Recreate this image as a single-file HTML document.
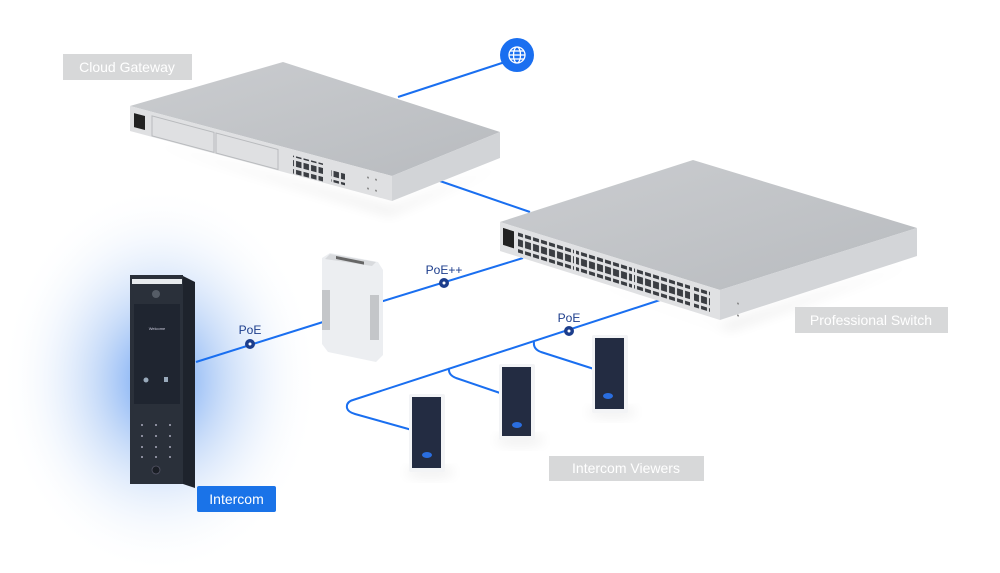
<!DOCTYPE html>
<html><head><meta charset="utf-8"><style>
html,body{margin:0;padding:0;background:#fff;}
svg{display:block;font-family:"Liberation Sans",sans-serif;}
</style></head><body>
<svg width="1000" height="573" viewBox="0 0 1000 573" xmlns="http://www.w3.org/2000/svg">
<defs>
<radialGradient id="glow" cx="0.5" cy="0.5" r="0.5">
<stop offset="0" stop-color="#2f7cf0" stop-opacity="0.75"/>
<stop offset="0.4" stop-color="#7aaaf0" stop-opacity="0.4"/>
<stop offset="0.75" stop-color="#c8dcf8" stop-opacity="0.15"/>
<stop offset="1" stop-color="#ffffff" stop-opacity="0"/>
</radialGradient>
<linearGradient id="swtop" x1="0" y1="0" x2="1" y2="1">
<stop offset="0" stop-color="#cbcdd0"/><stop offset="1" stop-color="#b8bbbf"/>
</linearGradient>
<pattern id="ports" width="8" height="10" patternUnits="userSpaceOnUse">
<rect x="1" y="1.5" width="6" height="7" fill="#3a3d42"/>
</pattern>
<pattern id="gports" width="7.5" height="9" patternUnits="userSpaceOnUse">
<rect x="1" y="1.5" width="5.5" height="6" fill="#3a3d42"/>
</pattern>
<filter id="sh" x="-20%" y="-20%" width="140%" height="160%"><feGaussianBlur stdDeviation="6"/></filter>
</defs>

<ellipse cx="160" cy="380" rx="160" ry="195" fill="url(#glow)"/>

<polygon points="140,140 392,208 505,165 390,215" fill="#000" opacity="0.08" filter="url(#sh)"/>
<polygon points="505,255 720,325 920,262 730,330" fill="#000" opacity="0.08" filter="url(#sh)"/>

<g stroke="#1a6ff0" stroke-width="2" fill="none">
<line x1="505" y1="62" x2="398" y2="97"/>
<line x1="437" y1="180" x2="530" y2="212"/>
<line x1="523" y1="258" x2="380" y2="302"/>
<line x1="196" y1="362" x2="323" y2="322"/>
<path d="M660,300 L353,400 Q346,402 347,408 Q348,412 355,414 L412,430"/>
<path d="M449,368 Q448,375 456,378 L503,394"/>
<path d="M534,342 Q533,349 541,352 L594,369"/>
</g>

<circle cx="517" cy="55" r="17" fill="#1a6ff0"/>
<g stroke="#fff" stroke-width="1.3" fill="none">
<circle cx="517" cy="55" r="8"/>
<ellipse cx="517" cy="55" rx="3.5" ry="8"/>
<line x1="509" y1="55" x2="525" y2="55"/>
<line x1="510.5" y1="51" x2="523.5" y2="51"/>
<line x1="510.5" y1="59" x2="523.5" y2="59"/>
</g>

<polygon points="130,106 283,62 500,132 392,176" fill="url(#swtop)"/>
<polygon points="130,106 392,176 392,201 130,131" fill="#dfe0e2"/>
<polygon points="392,176 500,132 500,158 392,201" fill="#d2d4d7"/>
<g transform="matrix(1,0.267,0,1,130,106)">
<rect x="4" y="6" width="11" height="14" fill="#222"/>
<rect x="22" y="4" width="62" height="20" fill="none" stroke="#b8babd"/>
<rect x="86" y="4" width="62" height="20" fill="none" stroke="#b8babd"/>
<rect x="163" y="6" width="30" height="18" fill="url(#gports)"/>
<rect x="201" y="8" width="14" height="14" fill="url(#gports)"/>
<circle cx="238" cy="8" r="1" fill="#888"/><circle cx="246" cy="8" r="1" fill="#888"/>
<circle cx="238" cy="19" r="1" fill="#888"/><circle cx="246" cy="19" r="1" fill="#888"/>
</g>
<rect x="63" y="54" width="129" height="26" fill="#d7d8d9"/>
<text x="127" y="72" font-size="14" fill="#fff" text-anchor="middle">Cloud Gateway</text>

<polygon points="500,222 693,160 917,228 720,290" fill="url(#swtop)"/>
<polygon points="500,222 720,290 720,320 500,251" fill="#e0e1e3"/>
<polygon points="720,290 917,228 917,256 720,320" fill="#d3d5d8"/>
<g transform="matrix(1,0.309,0,1,500,222)">
<rect x="3" y="5" width="11" height="17" fill="#222"/>
<rect x="18" y="5" width="56" height="20" fill="url(#ports)"/>
<rect x="76" y="5" width="56" height="20" fill="url(#ports)"/>
<rect x="134" y="5" width="56" height="20" fill="url(#ports)"/>
<rect x="194" y="5" width="16" height="20" fill="url(#ports)"/>
<circle cx="238" cy="8" r="1" fill="#888"/><circle cx="238" cy="20" r="1" fill="#888"/>
</g>
<rect x="795" y="307" width="153" height="26" fill="#d7d8d9"/>
<text x="871" y="325" font-size="14" fill="#fff" text-anchor="middle">Professional Switch</text>

<polygon points="322,258 330,253 378,262 383,270 383,355 376,362 328,352 322,344" fill="#eceef1"/>
<polygon points="325,259 372,266 376,262 330,254" fill="#d8dadd"/>
<g transform="matrix(1,0.2,0,1,336,256)"><rect x="0" y="0" width="28" height="3" fill="#666"/></g>
<rect x="322" y="290" width="8" height="40" fill="#c4c6c9"/>
<rect x="370" y="295" width="9" height="45" fill="#c4c6c9"/>

<g font-size="12" fill="#1c3d8c" text-anchor="middle">
<text x="444" y="274">PoE++</text>
<text x="250" y="334">PoE</text>
<text x="569" y="322">PoE</text>
</g>
<g fill="#1c3d8c"><circle cx="444" cy="283" r="5"/><circle cx="250" cy="344" r="5"/><circle cx="569" cy="331" r="5"/></g>
<g fill="#fff"><circle cx="444" cy="283" r="1.5"/><circle cx="250" cy="344" r="1.5"/><circle cx="569" cy="331" r="1.5"/></g>

<polygon points="183,276 195,282 195,488 183,484" fill="#1e232c"/>
<rect x="130" y="275" width="53" height="209" fill="#2a303a"/>
<rect x="132" y="279" width="50" height="5" fill="#e8ebee"/>
<circle cx="156" cy="294" r="4" fill="#555c66"/>
<rect x="134" y="304" width="46" height="100" fill="#1f2530"/>
<g fill="#ccd" font-size="4"><text x="157" y="330" text-anchor="middle">Welcome</text></g>
<circle cx="146" cy="380" r="2.5" fill="#9ab"/><rect x="164" y="377" width="4" height="5" fill="#9ab"/>
<g fill="#aab">
<circle cx="142" cy="425" r="1"/><circle cx="156" cy="425" r="1"/><circle cx="170" cy="425" r="1"/>
<circle cx="142" cy="436" r="1"/><circle cx="156" cy="436" r="1"/><circle cx="170" cy="436" r="1"/>
<circle cx="142" cy="447" r="1"/><circle cx="156" cy="447" r="1"/><circle cx="170" cy="447" r="1"/>
<circle cx="142" cy="457" r="1"/><circle cx="156" cy="457" r="1"/><circle cx="170" cy="457" r="1"/>
</g>
<circle cx="156" cy="470" r="4" fill="#1a1e25" stroke="#556" stroke-width="0.8"/>
<rect x="197" y="486" width="79" height="26" rx="2" fill="#1a73e8"/>
<text x="236.5" y="504" font-size="14" fill="#fff" text-anchor="middle">Intercom</text>

<g>
<ellipse cx="430" cy="472" rx="25" ry="6" fill="#000" opacity="0.06" filter="url(#sh)"/>
<ellipse cx="520" cy="440" rx="25" ry="6" fill="#000" opacity="0.06" filter="url(#sh)"/>
<ellipse cx="612" cy="412" rx="25" ry="6" fill="#000" opacity="0.06" filter="url(#sh)"/>
<rect x="409" y="394" width="36" height="78" rx="2" fill="#f3f4f6"/>
<rect x="412" y="397" width="29" height="71" fill="#232c42"/>
<ellipse cx="427" cy="455" rx="5" ry="3" fill="#2a6ee0"/>
<rect x="499" y="364" width="36" height="76" rx="2" fill="#f3f4f6"/>
<rect x="502" y="367" width="29" height="69" fill="#232c42"/>
<ellipse cx="517" cy="425" rx="5" ry="3" fill="#2a6ee0"/>
<rect x="592" y="335" width="36" height="78" rx="2" fill="#f3f4f6"/>
<rect x="595" y="338" width="29" height="71" fill="#232c42"/>
<ellipse cx="608" cy="396" rx="5" ry="3" fill="#2a6ee0"/>
</g>
<rect x="549" y="456" width="155" height="25" fill="#d7d8d9"/>
<text x="626" y="473" font-size="14" fill="#fff" text-anchor="middle">Intercom Viewers</text>
</svg>
</body></html>
